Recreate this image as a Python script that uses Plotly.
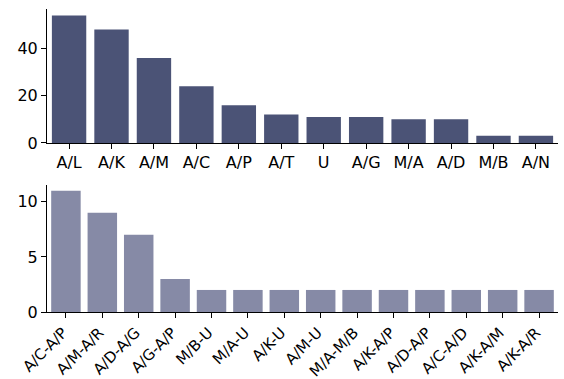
import plotly.graph_objects as go
from plotly.subplots import make_subplots

# Single-category counts
single_labels = ["A/L", "A/K", "A/M", "A/C", "A/P", "A/T", "U", "A/G", "M/A", "A/D", "M/B", "A/N"]
single_counts = [54, 48, 36, 24, 16, 12, 11, 11, 10, 10, 3, 3]

# Category-pair counts
pair_labels = ["A/C-A/P", "A/M-A/R", "A/D-A/G", "A/G-A/P", "M/B-U", "M/A-U", "A/K-U",
               "A/M-U", "M/A-M/B", "A/K-A/P", "A/D-A/P", "A/C-A/D", "A/K-A/M", "A/K-A/R"]
pair_counts = [11, 9, 7, 3, 2, 2, 2, 2, 2, 2, 2, 2, 2, 2]

TOP_COLOR = "#4b5376"
BOTTOM_COLOR = "#868aa6"
FONT = "DejaVu Sans"

fig = make_subplots(rows=2, cols=1, vertical_spacing=0.14)

fig.add_trace(go.Bar(x=single_labels, y=single_counts, marker_color=TOP_COLOR,
                     marker_line_width=0, width=0.81), row=1, col=1)
fig.add_trace(go.Bar(x=pair_labels, y=pair_counts, marker_color=BOTTOM_COLOR,
                     marker_line_width=0, width=0.81), row=2, col=1)

axis_common = dict(
    showline=True, linecolor="black", linewidth=1,
    ticks="outside", ticklen=5, tickwidth=1, tickcolor="black",
    showgrid=False, zeroline=False, automargin=False,
    tickfont=dict(family=FONT, size=16, color="black"),
)

fig.update_xaxes(**axis_common)
fig.update_yaxes(**axis_common)

fig.update_xaxes(range=[-0.52, 11.52], row=1, col=1)
# rotated pair labels, right end tucked just left of each tick
fig.update_xaxes(range=[-0.52, 13.52], tickangle=-45, ticklabelstandoff=0,
                 ticklabelshift=-3, ticklabeloverflow="allow",
                 tickfont=dict(family=FONT, size=15, color="black"), row=2, col=1)
fig.update_yaxes(range=[0, 56.7], tickvals=[0, 20, 40], row=1, col=1)
fig.update_yaxes(range=[0, 11.55], tickvals=[0, 5, 10], row=2, col=1)

fig.update_layout(
    width=564, height=379,
    margin=dict(l=47, r=6, t=9, b=67),
    plot_bgcolor="white", paper_bgcolor="white",
    showlegend=False,
    font=dict(family=FONT, size=16, color="black"),
)
fig.layout.yaxis.domain = [0.558, 1.0]
fig.layout.yaxis2.domain = [0.0, 0.42]

fig.write_html("out.html")
